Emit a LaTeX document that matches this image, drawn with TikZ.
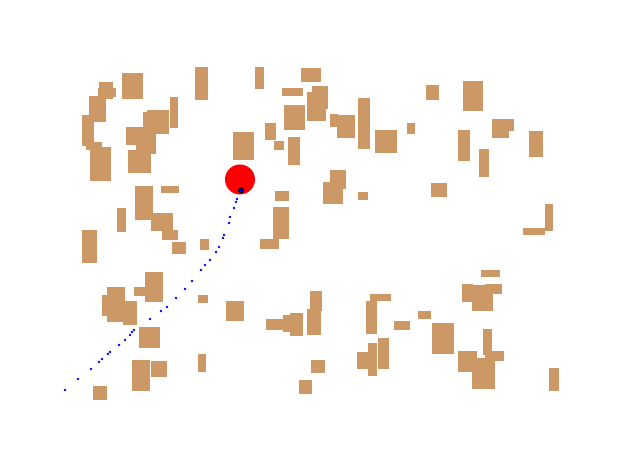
\documentclass[tikz,border=0pt]{standalone}
\usepackage{xcolor}
\usepackage{tikz}
\definecolor{cafe}{RGB}{204,153,102}

\begin{document}
\begin{tikzpicture}[x=1pt, y=-1pt]
            % Marco
            \useasboundingbox (0,0) rectangle (630,470);
            % Obstaculos
            \foreach \xa/\ya/\xb/\yb in {99/82/113/99, 98/88/116/97, 122/73/143/99, 195/67/208/100, 255/67/264/89,
                89/96/106/122, 82/115/94/146, 86/142/102/150, 90/147/111/181, 170/97/178/128,
                147/110/169/134, 143/112/160/134, 126/127/156/145, 136/127/156/154, 128/150/151/173,
                233/132/254/160, 135/186/153/220, 161/186/179/193, 117/208/126/232, 151/213/173/231,
                162/230/178/240, 82/230/97/263, 172/242/186/254, 200/239/209/250, 145/272/163/302,
                134/287/145/296, 107/287/125/322, 102/295/125/316, 123/301/137/325, 198/295/208/303,
                226/301/244/321, 139/327/160/348, 132/360/150/391, 151/361/167/377, 198/354/206/372,
                93/386/107/400}
                \fill[cafe] (\xa,\ya) rectangle (\xb,\yb);
            \foreach \xa/\ya/\xb/\yb in {301/68/321/82, 282/88/303/96, 312/86/328/109, 307/92/326/121, 284/105/305/130,
                265/123/276/140, 274/141/284/150, 288/137/300/165, 330/114/338/127, 337/115/355/138,
                358/98/370/149, 375/130/397/153, 407/123/415/134, 426/85/439/100, 330/170/346/189,
                323/182/343/204, 358/192/368/200, 431/183/447/197, 275/191/289/201, 273/207/289/239,
                260/239/279/249}
                \fill[cafe] (\xa,\ya) rectangle (\xb,\yb);
            \foreach \xa/\ya/\xb/\yb in {463/81/483/111, 458/130/470/161, 479/149/489/177, 492/119/514/131, 492/119/509/138,
                529/131/543/157, 545/204/553/231, 523/228/545/235,
                310/291/322/311, 307/309/321/335, 266/319/284/330, 283/315/303/332, 290/313/303/336,
                370/294/391/301, 366/301/377/334, 394/321/410/330, 418/311/431/319, 432/323/454/354,
                311/360/325/373, 299/380/312/394, 357/352/377/369, 368/343/377/376, 378/338/389/369,
                481/270/500/277, 462/284/473/302, 472/285/493/311, 485/284/502/294, 483/329/492/355,
                485/351/504/361, 458/351/477/372, 472/358/495/389, 549/368/559/391}
                \fill[cafe] (\xa,\ya) rectangle (\xb,\yb);
            % Robot
            \fill[red] (240,179.5) circle (15);
            % Trayectoria
            \foreach \px/\py in {237/199, 236/202, 234/208, 230/217, 229/223, 224/235, 223/238, 219/247, 216/252,
                210/260, 205/265, 201/270, 192/281, 185/289, 176/298, 167/307, 161/311, 150/319, 134/330,
                132/332, 130/335, 125/340, 119/345, 110/352, 108/354, 102/359, 99/362, 91/369, 78/379, 65/390}
                \fill[blue] (\px,\py) circle (1.45);
            \filldraw[fill=blue, draw=black, line width=1pt] (241,190.5) circle (2.5);
       \end{tikzpicture}
\end{document}
